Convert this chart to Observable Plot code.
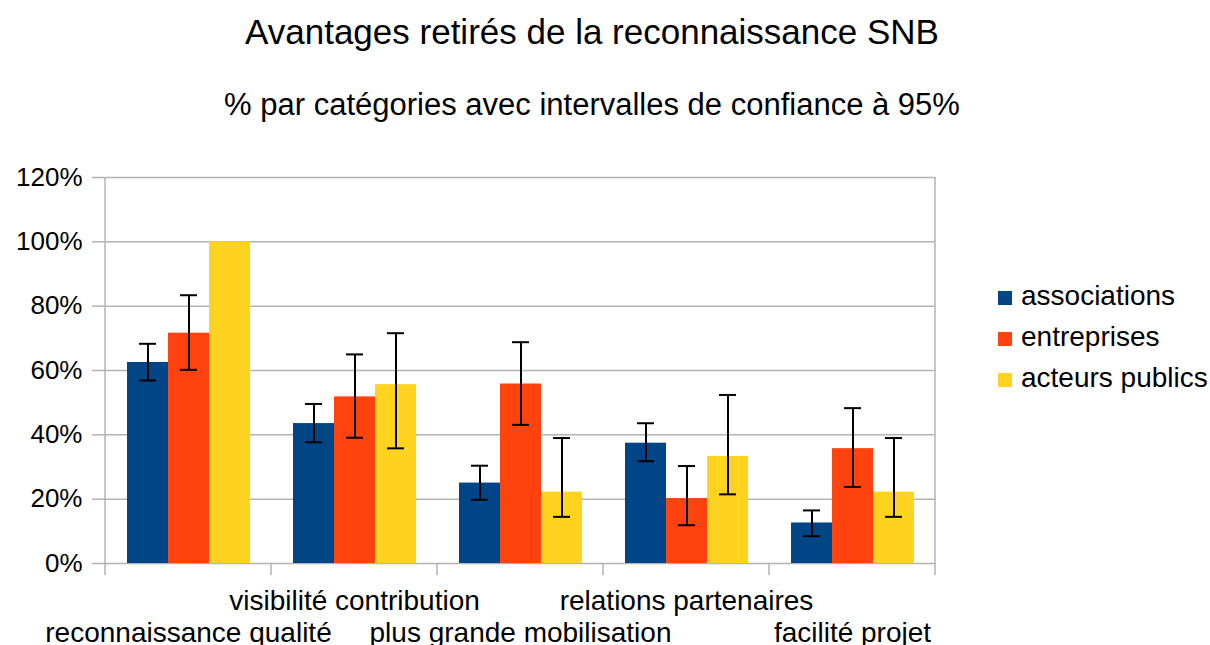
<!DOCTYPE html>
<html>
<head>
<meta charset="utf-8">
<script src="https://cdn.jsdelivr.net/npm/d3@7"></script>
<script src="https://cdn.jsdelivr.net/npm/@observablehq/plot@0.6"></script>
<style>
  html, body { margin: 0; padding: 0; background: #fff; }
  #wrap { position: relative; width: 1210px; height: 645px; overflow: hidden;
          font-family: "Liberation Sans", Arial, sans-serif; color: #000; }
  #title { position: absolute; left: 0; width: 1184px; top: 14px; text-align: center;
           font-size: 35px; line-height: 35px; white-space: nowrap; }
  #subtitle { position: absolute; left: 0; width: 1184px; top: 89px; text-align: center;
              font-size: 31px; line-height: 31px; white-space: nowrap; }
  #chart { position: absolute; left: 0; top: 140px; }
  #legend { position: absolute; left: 998px; top: 275px; }
  .item { display: flex; align-items: baseline; line-height: 41px; font-size: 28px; white-space: nowrap; }
  .sw { width: 14px; height: 14px; margin-right: 9px; flex: none; }
</style>
</head>
<body>
<div id="wrap">
  <div id="title"></div>
  <div id="subtitle"></div>
  <div id="chart"></div>
  <div id="legend"></div>
</div>
<script>
const titleText = "Avantages retirés de la reconnaissance SNB";
const subtitleText = "% par catégories avec intervalles de confiance à 95%";

const categories = [
  "reconnaissance qualité",
  "visibilité contribution",
  "plus grande mobilisation",
  "relations partenaires",
  "facilité projet"
];
const series = ["associations", "entreprises", "acteurs publics"];
const colors = ["#004586", "#ff420e", "#ffd320"];

// values (fractions) per series, in category order
const associationsValues = [0.625, 0.435, 0.25, 0.374, 0.126];
const associationsLow    = [0.569, 0.377, 0.198, 0.318, 0.085];
const associationsHigh   = [0.683, 0.496, 0.304, 0.436, 0.165];

const entreprisesValues = [0.716, 0.518, 0.558, 0.202, 0.357];
const entreprisesLow    = [0.602, 0.391, 0.431, 0.119, 0.238];
const entreprisesHigh   = [0.834, 0.650, 0.688, 0.303, 0.483];

const publicsValues = [1.0, 0.556, 0.222, 0.333, 0.222];
const publicsLow    = [null, 0.358, 0.145, 0.215, 0.145];
const publicsHigh   = [null, 0.716, 0.390, 0.524, 0.390];

const yTicks = [0, 0.2, 0.4, 0.6, 0.8, 1.0, 1.2];

const valueTable = [associationsValues, entreprisesValues, publicsValues];
const lowTable = [associationsLow, entreprisesLow, publicsLow];
const highTable = [associationsHigh, entreprisesHigh, publicsHigh];

const data = [];
series.forEach((s, k) => categories.forEach((c, i) => {
  data.push({category: c, series: s, value: valueTable[k][i], low: lowTable[k][i], high: highTable[k][i]});
}));
const errs = data.filter(d => d.low != null && d.high != null);
const row1 = categories.filter((c, i) => i % 2 === 1);
const row2 = categories.filter((c, i) => i % 2 === 0);

document.getElementById("title").textContent = titleText;
document.getElementById("subtitle").textContent = subtitleText;

const chart = Plot.plot({
  width: 1210,
  height: 505,
  marginLeft: 103,
  marginRight: 273,
  marginTop: 37,
  marginBottom: 82,
  style: {fontFamily: "'Liberation Sans', Arial, sans-serif", color: "#000", background: "transparent", overflow: "visible"},
  fx: {domain: categories, padding: 0, label: null},
  x: {domain: series, paddingInner: 0, paddingOuter: 0.5, axis: null},
  y: {domain: [0, 1.2], label: null},
  color: {domain: series, range: colors},
  marks: [
    Plot.gridY(yTicks, {stroke: "#b3b3b3", strokeOpacity: 1, strokeWidth: 1.5}),
    Plot.barY(data, {fx: "category", x: "series", y: "value", fill: "series"}),
    Plot.ruleX(errs, {fx: "category", x: "series", y1: "low", y2: "high", stroke: "#000", strokeWidth: 2}),
    Plot.tickY(errs, {fx: "category", x: "series", y: "high", stroke: "#000", strokeWidth: 2, insetLeft: 12, insetRight: 12}),
    Plot.tickY(errs, {fx: "category", x: "series", y: "low", stroke: "#000", strokeWidth: 2, insetLeft: 12, insetRight: 12}),
    Plot.axisY({ticks: yTicks, tickFormat: d3.format(".0%"), tickSize: 13, tickPadding: 10,
                stroke: "#b3b3b3", strokeWidth: 1.5, fill: "#000", fontSize: 26, label: null}),
    Plot.axisFx({anchor: "bottom", ticks: row1, tickSize: 0, tickPadding: 27, fontSize: 28, fill: "#000", label: null}),
    Plot.axisFx({anchor: "bottom", ticks: row2, tickSize: 0, tickPadding: 59, fontSize: 28, fill: "#000", label: null})
  ]
});

// category boundary ticks and plot borders, placed through Plot's own scales
const fxs = chart.scale("fx");
const ys = chart.scale("y");
const y0 = ys.apply(0);
const yTop = ys.apply(1.2);
const edges = categories.map(c => fxs.apply(c));
edges.push(fxs.apply(categories[categories.length - 1]) + fxs.bandwidth);
const deco = d3.select(chart).append("g").attr("stroke", "#b3b3b3").attr("stroke-width", 1.5);
edges.forEach((x, i) => {
  const outer = i === 0 || i === edges.length - 1;
  deco.append("line").attr("x1", x).attr("x2", x).attr("y1", outer ? yTop : y0).attr("y2", y0 + 12);
});

document.getElementById("chart").appendChild(chart);

const legend = d3.select("#legend");
series.forEach((s, k) => {
  const item = legend.append("div").attr("class", "item");
  item.append("div").attr("class", "sw").style("background", colors[k]);
  item.append("span").text(s);
});
</script>
</body>
</html>
